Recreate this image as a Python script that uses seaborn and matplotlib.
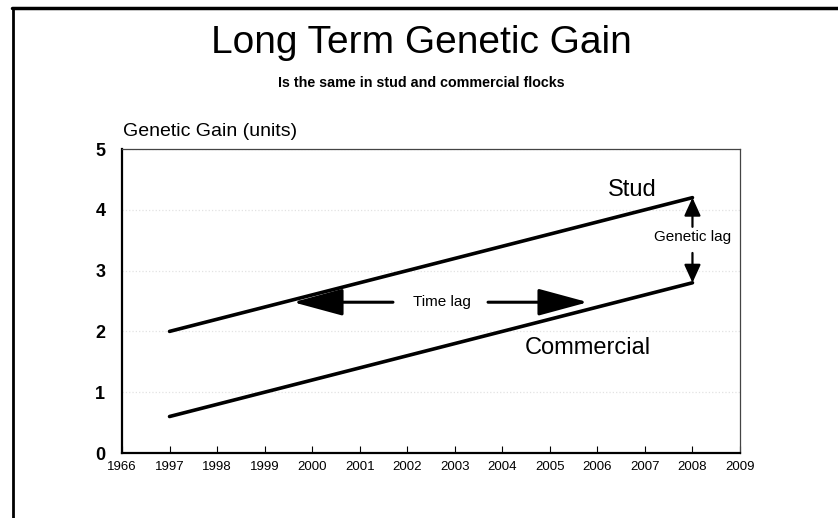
import matplotlib
matplotlib.use("Agg")
import pandas as pd
import matplotlib.pyplot as plt
import seaborn as sns
from matplotlib.lines import Line2D

# Category axis (as printed on the original slide, including the "1966" typo)
years = ["1966", "1997", "1998", "1999", "2000", "2001", "2002",
         "2003", "2004", "2005", "2006", "2007", "2008", "2009"]
y_ticks = [0, 1, 2, 3, 4, 5]

# Gain lines: start and end points
line_years = ["1997", "2008"]
stud_gain = [2.0, 4.2]
commercial_gain = [0.6, 2.8]

sns.set_theme(style="white")
plt.rcParams["font.family"] = ["Liberation Sans", "DejaVu Sans"]
plt.rcParams["text.color"] = "black"
plt.rcParams["xtick.color"] = "black"
plt.rcParams["ytick.color"] = "black"

df = pd.DataFrame({
    "year": line_years * 2,
    "gain": stud_gain + commercial_gain,
    "flock": ["Stud"] * 2 + ["Commercial"] * 2,
})
df["pos"] = df["year"].map(years.index)

W, H = 838, 518
fig = plt.figure(figsize=(W / 100, H / 100), dpi=100)
ax = fig.add_axes([122 / W, 1 - 453 / H, (740 - 122) / W, (453 - 149) / H])

sns.lineplot(data=df, x="pos", y="gain", hue="flock",
             palette={"Stud": "black", "Commercial": "black"},
             linewidth=2.6, legend=False, ax=ax)

ax.set_xlim(0, len(years) - 1)
ax.set_ylim(0, 5)
ax.set_xticks(range(len(years)))
ax.set_xticklabels(years, fontsize=9.5)
ax.set_yticks(y_ticks)
ax.set_yticklabels([str(t) for t in y_ticks], fontsize=13, fontweight="bold")
ax.tick_params(axis="x", direction="in", length=5, width=0.8,
               color="black", labelcolor="black", bottom=True, pad=6)
ax.tick_params(axis="y", length=0, pad=12, labelcolor="black")
ax.set_xlabel("")
ax.set_ylabel("")
ax.grid(axis="y", color="#e2e2e2", linestyle=":", linewidth=0.9)

for side in ["left", "bottom"]:
    ax.spines[side].set_color("black")
    ax.spines[side].set_linewidth(1.6)
for side in ["top", "right"]:
    ax.spines[side].set_color("#444444")
    ax.spines[side].set_linewidth(0.9)

# labels on the lines
ax.text(10.73, 4.33, "Stud", fontsize=17, ha="center", va="center")
ax.text(9.8, 1.73, "Commercial", fontsize=17, ha="center", va="center")

# time lag arrows
big_head = "-|>,head_length=1.55,head_width=0.42"
ax.annotate("", xy=(3.6, 2.48), xytext=(5.7, 2.48),
            arrowprops=dict(arrowstyle=big_head, mutation_scale=20, lw=2.2,
                            color="black", shrinkA=0, shrinkB=0))
ax.annotate("", xy=(9.8, 2.48), xytext=(7.7, 2.48),
            arrowprops=dict(arrowstyle=big_head, mutation_scale=20, lw=2.2,
                            color="black", shrinkA=0, shrinkB=0))
ax.text(6.73, 2.48, "Time lag", fontsize=11, ha="center", va="center")

# genetic lag arrows
small_head = "-|>,head_length=0.55,head_width=0.25"
ax.annotate("", xy=(12, 4.2), xytext=(12, 3.72),
            arrowprops=dict(arrowstyle=small_head, mutation_scale=20, lw=1.6,
                            color="black", shrinkA=0, shrinkB=0))
ax.annotate("", xy=(12, 2.8), xytext=(12, 3.29),
            arrowprops=dict(arrowstyle=small_head, mutation_scale=20, lw=1.6,
                            color="black", shrinkA=0, shrinkB=0))
ax.text(12, 3.55, "Genetic lag", fontsize=11, ha="center", va="center")

# titles
fig.text(421 / W, 1 - 53 / H, "Long Term Genetic Gain", fontsize=28,
         ha="center", va="baseline")
fig.text(421 / W, 1 - 87 / H, "Is the same in stud and commercial flocks",
         fontsize=10.3, fontweight="bold", ha="center", va="baseline")
fig.text(123 / W, 1 - 131 / H, "Genetic Gain (units)", fontsize=14,
         ha="left", va="center")

# slide border (top and left edges)
fig.add_artist(Line2D([12 / W, 1], [1 - 8 / H, 1 - 8 / H],
                      transform=fig.transFigure, color="black", lw=2.5))
fig.add_artist(Line2D([13 / W, 13 / W], [0, 1 - 8 / H],
                      transform=fig.transFigure, color="black", lw=2))

fig.savefig("out.png", dpi=100)
